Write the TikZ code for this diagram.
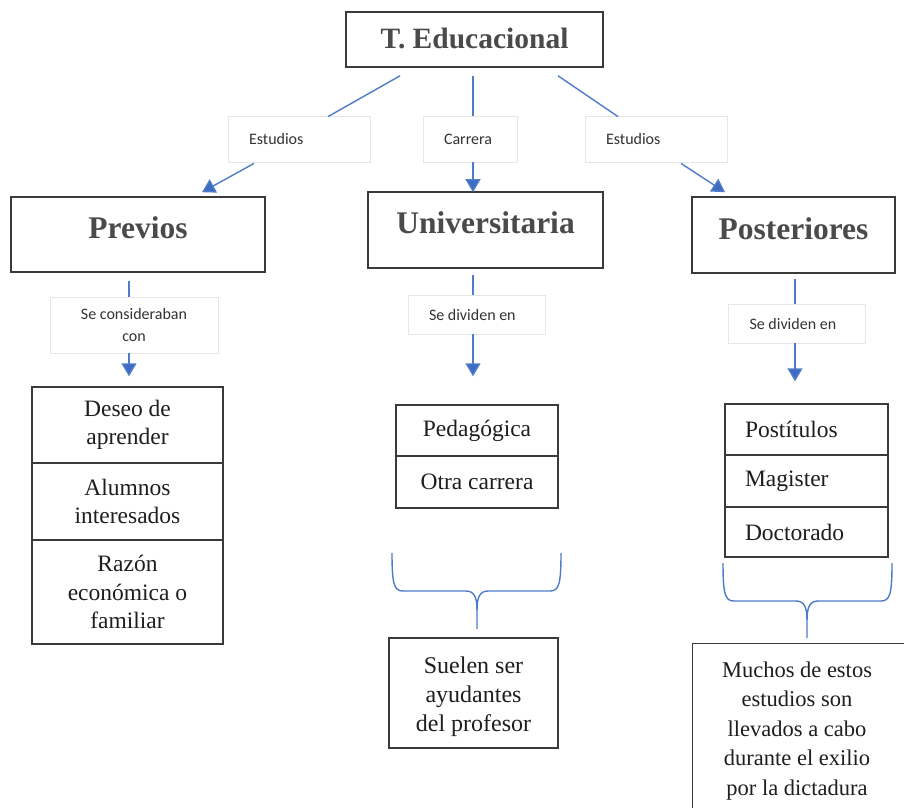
\documentclass[tikz,border=0pt]{standalone}
\usepackage{fontspec}
\setmainfont{Liberation Serif}
\newfontfamily\lblfamily{Carlito}
\usetikzlibrary{arrows.meta}
\definecolor{boxc}{HTML}{3A3A3A}
\definecolor{hdrtext}{HTML}{4A4A4A}
\definecolor{lblc}{HTML}{E6E6E6}
\definecolor{lbltext}{HTML}{333333}
\definecolor{linkc}{HTML}{4F7CC8}
\definecolor{tipc}{HTML}{3D6CC4}
\definecolor{itemtext}{HTML}{1E1E1E}
\tikzset{
  hdrbox/.style={draw=boxc, line width=1.6pt, fill=white, inner sep=0pt},
  hdrtxt/.style={font=\bfseries\fontsize{31.5}{34}\selectfont, text=hdrtext, inner sep=0pt},
  lblbox/.style={draw=lblc, line width=0.8pt, fill=white, inner xsep=21pt, inner ysep=0pt,
    align=flush left, font=\lblfamily\fontsize{16}{21.5}\selectfont, text=lbltext},
  cell/.style={draw=boxc, line width=1.4pt, inner sep=0pt, align=flush center,
    font=\fontsize{23.5}{28.5}\selectfont, text=itemtext},
  lcell/.style={cell, text width=123pt, inner xsep=20pt, align=flush left},
  notebox/.style={draw=boxc, line width=1.4pt, inner sep=0pt},
  notetxt/.style={align=flush center, inner sep=0pt, text=itemtext},
  link/.style={draw=linkc, line width=1.4pt},
  arrow/.style={link, -{Triangle[width=15pt,length=13pt,fill=tipc]}},
  brace/.style={draw=linkc, line width=1.4pt, line join=round}
}
\begin{document}
\begin{tikzpicture}[x=1pt,y=-1pt]
\useasboundingbox (0,0) rectangle (904,807);
\fill[white] (0,0) rectangle (904,807);
\begin{scope}
\clip (0,0) rectangle (904,807);

% title
\node[hdrbox, minimum width=257pt, minimum height=55pt] (teduc) at (474.5,39.5) {};
\node[hdrtxt, font=\bfseries\fontsize{29.5}{32}\selectfont] (tedtxt) at (474.5,38) {T. Educacional};

% first-level labels
\node[lblbox, text width=100pt, minimum height=46pt] (lblL) at (299,139) {Estudios};
\node[lblbox, text width=52pt, minimum height=46pt] (lblC) at (470,139) {Carrera};
\node[lblbox, text width=100pt, minimum height=46pt] (lblR) at (656,139) {Estudios};

% three branches
\node[hdrbox, minimum width=254pt, minimum height=75pt] (previos) at (138,234.5) {};
\node[hdrtxt] (previostxt) at (138,228) {Previos};
\node[hdrbox, minimum width=235pt, minimum height=76pt] (univ) at (485.5,230) {};
\node[hdrtxt] (univtxt) at (485.5,223) {Universitaria};
\node[hdrbox, minimum width=203pt, minimum height=76pt] (post) at (793.5,235) {};
\node[hdrtxt] (posttxt) at (793.5,229) {Posteriores};

% top connectors
\draw[link] ([shift={(-74.5,8)}]teduc.south) -- ([shift={(29,1)}]lblL.north);
\draw[arrow] ([shift={(-45,1)}]lblL.south) -- ([shift={(64,-4)}]previos.north);
\draw[link] ([shift={(-1.5,8)}]teduc.south) -- ([shift={(3,0)}]lblC.north);
\draw[arrow] ([shift={(3,0)}]lblC.south) -- ([shift={(-12.5,1)}]univ.north);
\draw[link] ([shift={(83.5,8)}]teduc.south) -- ([shift={(-38,1)}]lblR.north);
\draw[arrow] ([shift={(25,1)}]lblR.south) -- ([shift={(-68.5,-4)}]post.north);

% second-level labels
\node[lblbox, text width=126pt, align=flush center, minimum height=56pt] (lblP) at (134,325) {Se consideraban\\con};
\node[lblbox, text width=95pt, minimum height=39pt] (lblU) at (476.5,314.5) {Se dividen en};
\node[lblbox, text width=95pt, minimum height=39pt] (lblPo) at (797,323.5) {Se dividen en};

% lists
\node[cell, minimum width=191pt, minimum height=76pt] (p1) at (127.5,425) {Deseo de\\aprender};
\node[cell, minimum width=191pt, minimum height=77pt] (p2) at (127.5,501.5) {Alumnos\\interesados};
\node[cell, minimum width=191pt, minimum height=104pt] (p3) at (127.5,592) {Razón\\económica o\\familiar};

\node[cell, minimum width=162pt, minimum height=51pt] (u1) at (477,430.5) {Pedagógica};
\node[cell, minimum width=162pt, minimum height=52pt] (u2) at (477,482) {Otra carrera};

\node[lcell, minimum height=51pt] (q1) at (806.5,429.5) {Postítulos};
\node[lcell, minimum height=52pt] (q2) at (806.5,481) {Magister};
\node[lcell, minimum height=50pt] (q3) at (806.5,532) {Doctorado};

% second-level connectors
\draw[link] ([shift={(-9,8)}]previos.south) -- ([shift={(-5,0)}]lblP.north);
\draw[arrow] ([shift={(-5,0)}]lblP.south) -- ([shift={(1.5,-10)}]p1.north);
\draw[link] ([shift={(-12.5,6)}]univ.south) -- ([shift={(-3.5,0)}]lblU.north);
\draw[arrow] ([shift={(-3.5,0)}]lblU.south) -- ([shift={(-4,-28)}]u1.north);
\draw[link] ([shift={(1.5,5)}]post.south) -- ([shift={(-2,0)}]lblPo.north);
\draw[arrow] ([shift={(-2,0)}]lblPo.south) -- ([shift={(-11.5,-22)}]q1.north);

% notes
\node[notebox, minimum width=169pt, minimum height=110pt] (suelen) at (473.5,693) {};
\node[notetxt, font=\fontsize{24}{29}\selectfont] (suelentxt) at (473.5,697) {Suelen ser\\ayudantes\\del profesor};
\node[notebox, anchor=north west, minimum width=240pt, minimum height=200pt] (muchos) at (692,643) {};
\node[notetxt, font=\fontsize{22.5}{29.5}\selectfont] (muchostxt) at (797,731) {Muchos de estos\\estudios son\\llevados a cabo\\durante el exilio\\por la dictadura};

% braces
\coordinate (bAl) at (392,553);
\coordinate (bAr) at (561,553);
\coordinate (bAt) at (477,629);
\draw[brace] (bAl) .. controls (392,584) and (394,591) .. (403,591) -- (466,591)
  .. controls (474,591) and (477,597) .. (477,610) -- (bAt);
\draw[brace] (bAr) .. controls (561,584) and (559,591) .. (550,591) -- (488,591)
  .. controls (480,591) and (477,597) .. (477,610);

\coordinate (bBl) at (723,563);
\coordinate (bBr) at (892,563);
\coordinate (bBt) at (807,638);
\draw[brace] (bBl) .. controls (723,594) and (725,601) .. (734,601) -- (796,601)
  .. controls (804,601) and (807,607) .. (807,620) -- (bBt);
\draw[brace] (bBr) .. controls (892,594) and (890,601) .. (881,601) -- (818,601)
  .. controls (810,601) and (807,607) .. (807,620);
\end{scope}
\end{tikzpicture}
\end{document}
